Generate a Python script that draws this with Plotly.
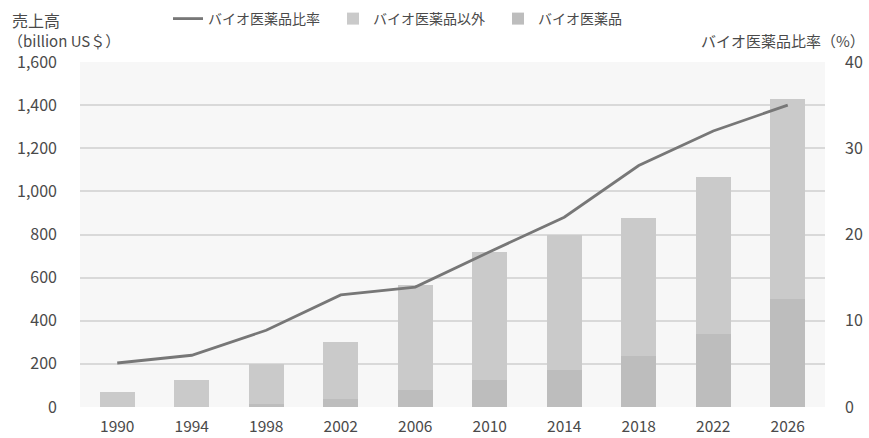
import plotly.graph_objects as go

years = ["1990", "1994", "1998", "2002", "2006", "2010", "2014", "2018", "2022", "2026"]
total_sales = [70, 125, 200, 300, 565, 718, 800, 876, 1068, 1428]
bio_sales = [0, 2, 15, 35, 78, 127, 172, 238, 340, 502]
non_bio_sales = [t - b for t, b in zip(total_sales, bio_sales)]
bio_ratio = [5.1, 6.0, 8.9, 13.0, 13.9, 18.0, 22.0, 28.0, 32.0, 35.0]

left_ticks = [0, 200, 400, 600, 800, 1000, 1200, 1400, 1600]
left_tick_text = ["0", "200", "400", "600", "800", "1,000", "1,200", "1,400", "1,600"]
right_ticks = [0, 10, 20, 30, 40]

FONT = "Noto Sans CJK JP"
TXT = "#4a4a4a"
W, H = 869, 438
ML, MR, MT, MB = 80, 44, 62, 31
PW, PH = W - ML - MR, H - MT - MB


def px_x(x):
    return (x - ML) / PW


def px_y(y):
    return (H - MB - y) / PH


fig = go.Figure()
fig.add_trace(go.Bar(x=years, y=bio_sales, name="バイオ医薬品", marker_color="#bdbdbd",
                     marker_line_width=0, width=0.47, legendrank=3))
fig.add_trace(go.Bar(x=years, y=non_bio_sales, name="バイオ医薬品以外", marker_color="#cacaca",
                     marker_line_width=0, width=0.47, legendrank=2))
fig.add_trace(go.Scatter(x=years, y=bio_ratio, name="バイオ医薬品比率", mode="lines",
                         line=dict(color="#777777", width=2.8), yaxis="y2", legendrank=1))

fig.update_layout(
    width=W, height=H,
    margin=dict(l=ML, r=MR, t=MT, b=MB, autoexpand=False),
    barmode="stack",
    paper_bgcolor="white",
    plot_bgcolor="#f7f7f7",
    font=dict(family=FONT, size=16, color=TXT),
    showlegend=True,
    legend=dict(orientation="h", xref="container", yref="container",
                x=168 / W, xanchor="left", y=1 - 19 / H, yanchor="middle",
                font=dict(size=14, color=TXT), bgcolor="rgba(0,0,0,0)",
                traceorder="normal", entrywidth=120, entrywidthmode="pixels"),
    xaxis=dict(type="category", range=[-0.5, 9.5], showgrid=False, showline=False,
               ticks="", tickfont=dict(size=15.5, color=TXT), automargin=False,
               ticklabelstandoff=8),
    yaxis=dict(range=[0, 1600], tickvals=left_ticks, ticktext=left_tick_text,
               showgrid=True, gridcolor="#d9d9d9", gridwidth=1.5, zeroline=False,
               showline=False, ticks="", tickfont=dict(size=16, color=TXT),
               automargin=False, ticklabelstandoff=22),
    yaxis2=dict(range=[0, 40], tickvals=right_ticks, overlaying="y", side="right",
                showgrid=False, zeroline=False, showline=False, ticks="",
                tickfont=dict(size=16, color=TXT), automargin=False,
                ticklabelstandoff=19),
    annotations=[
        dict(text="売上高", xref="paper", yref="paper", x=px_x(10), y=px_y(20),
             xanchor="left", yanchor="middle", showarrow=False, font=dict(size=16, color=TXT)),
        dict(text="（billion US＄）", xref="paper", yref="paper", x=px_x(6), y=px_y(41),
             xanchor="left", yanchor="middle", showarrow=False, font=dict(size=15, color=TXT)),
        dict(text="バイオ医薬品比率（%）", xref="paper", yref="paper", x=px_x(867), y=px_y(41),
             xanchor="right", yanchor="middle", showarrow=False, font=dict(size=15, color=TXT)),
    ],
)

fig.write_html("out.html", config={"displayModeBar": False},
               post_script="document.body.style.margin='0';")
